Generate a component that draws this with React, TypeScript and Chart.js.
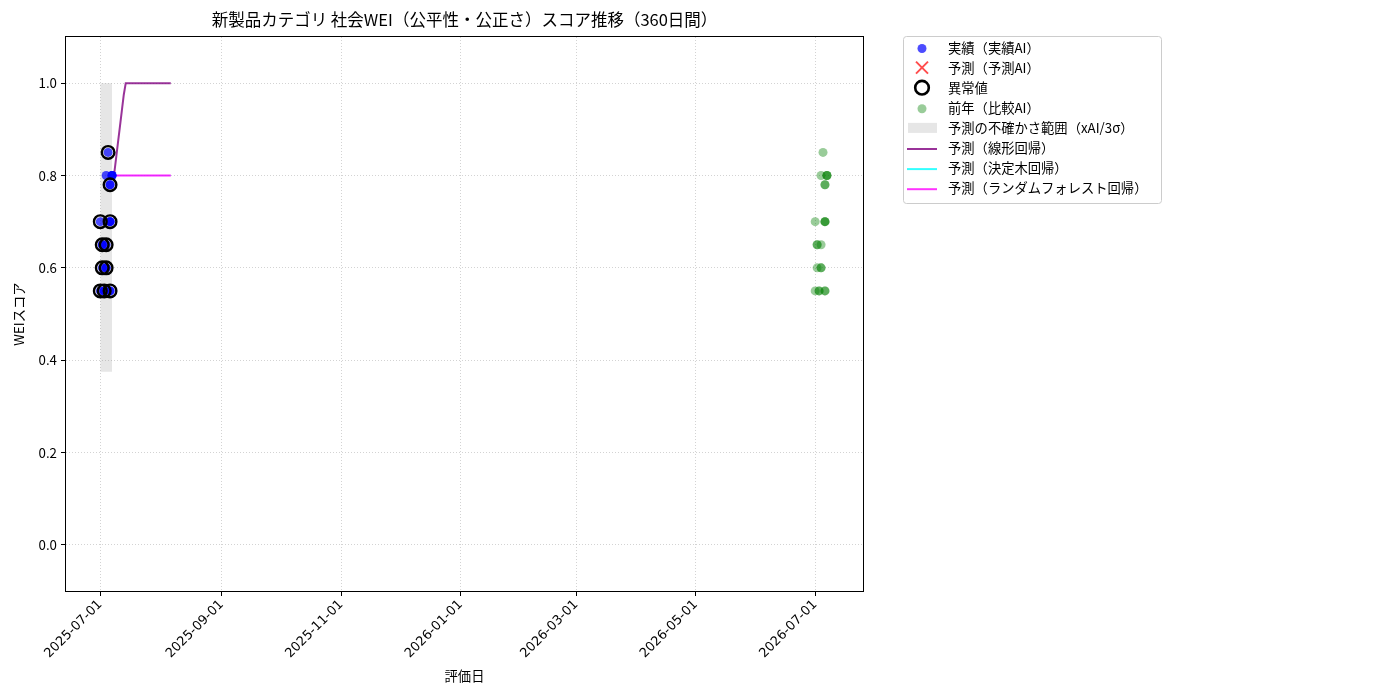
import { useEffect, useRef } from 'react';
import { Chart, registerables } from 'chart.js';
import type { Plugin } from 'chart.js';

Chart.register(...registerables);

const FONT = '"Noto Sans CJK JP", "Noto Sans", sans-serif';
const TICK_FONT = '"DejaVu Sans", sans-serif';

// 実績（実績AI）
const actualDates = [
    '2025-07-05', '2025-07-04', '2025-07-07', '2025-07-07', '2025-07-07', '2025-07-06', '2025-07-06',
    '2025-07-01', '2025-07-06', '2025-07-06', '2025-07-06', '2025-07-02', '2025-07-02', '2025-07-04',
    '2025-07-02', '2025-07-04', '2025-07-04', '2025-07-01', '2025-07-03', '2025-07-03', '2025-07-06',
    '2025-07-06',
];
const actualValues = [
    0.85, 0.80, 0.80, 0.80, 0.80, 0.78, 0.78,
    0.70, 0.70, 0.70, 0.70, 0.65, 0.65, 0.65,
    0.60, 0.60, 0.60, 0.55, 0.55, 0.55, 0.55,
    0.55,
];

// 異常値
const anomalyDates = [
    '2025-07-05', '2025-07-06', '2025-07-01', '2025-07-06', '2025-07-02', '2025-07-04', '2025-07-02',
    '2025-07-04', '2025-07-01', '2025-07-03', '2025-07-06',
];
const anomalyValues = [0.85, 0.78, 0.70, 0.70, 0.65, 0.65, 0.60, 0.60, 0.55, 0.55, 0.55];

// 前年（比較AI）
const prevYearDates = [
    '2026-07-05', '2026-07-04', '2026-07-07', '2026-07-07', '2026-07-07', '2026-07-06', '2026-07-06',
    '2026-07-01', '2026-07-06', '2026-07-06', '2026-07-06', '2026-07-02', '2026-07-02', '2026-07-04',
    '2026-07-02', '2026-07-04', '2026-07-04', '2026-07-01', '2026-07-03', '2026-07-03', '2026-07-06',
    '2026-07-06',
];
const prevYearValues = [
    0.85, 0.80, 0.80, 0.80, 0.80, 0.78, 0.78,
    0.70, 0.70, 0.70, 0.70, 0.65, 0.65, 0.65,
    0.60, 0.60, 0.60, 0.55, 0.55, 0.55, 0.55,
    0.55,
];

// 予測期間
const forecastDates = [
    '2025-07-08', '2025-07-09', '2025-07-10', '2025-07-11', '2025-07-12', '2025-07-13', '2025-07-14',
    '2025-07-15', '2025-07-16', '2025-07-17', '2025-07-18', '2025-07-19', '2025-07-20', '2025-07-21',
    '2025-07-22', '2025-07-23', '2025-07-24', '2025-07-25', '2025-07-26', '2025-07-27', '2025-07-28',
    '2025-07-29', '2025-07-30', '2025-07-31', '2025-08-01', '2025-08-02', '2025-08-03', '2025-08-04',
    '2025-08-05', '2025-08-06',
];
const linearForecast = [
    0.80, 0.835, 0.87, 0.905, 0.94, 0.975, 1.0, 1.0, 1.0, 1.0, 1.0, 1.0, 1.0, 1.0, 1.0,
    1.0, 1.0, 1.0, 1.0, 1.0, 1.0, 1.0, 1.0, 1.0, 1.0, 1.0, 1.0, 1.0, 1.0, 1.0,
];
const treeForecast = [
    0.80, 0.80, 0.80, 0.80, 0.80, 0.80, 0.80, 0.80, 0.80, 0.80, 0.80, 0.80, 0.80, 0.80, 0.80,
    0.80, 0.80, 0.80, 0.80, 0.80, 0.80, 0.80, 0.80, 0.80, 0.80, 0.80, 0.80, 0.80, 0.80, 0.80,
];
const forestForecast = [
    0.80, 0.80, 0.80, 0.80, 0.80, 0.80, 0.80, 0.80, 0.80, 0.80, 0.80, 0.80, 0.80, 0.80, 0.80,
    0.80, 0.80, 0.80, 0.80, 0.80, 0.80, 0.80, 0.80, 0.80, 0.80, 0.80, 0.80, 0.80, 0.80, 0.80,
];

// 予測の不確かさ範囲
const bandDates = ['2025-07-01', '2025-07-07'];
const bandLower = [0.375, 0.375];
const bandUpper = [1.0, 1.0];

const xTickLabels = ['2025-07-01', '2025-09-01', '2025-11-01', '2026-01-01', '2026-03-01', '2026-05-01', '2026-07-01'];
const yTickValues = [0.0, 0.2, 0.4, 0.6, 0.8, 1.0];
const xLimits = ['2025-06-13T12:00:00Z', '2026-07-25T10:00:00Z'];
const yLimits = [-0.1, 1.1];

const TITLE = '新製品カテゴリ 社会WEI（公平性・公正さ）スコア推移（360日間）';
const legendLabels = [
    '実績（実績AI）', '予測（予測AI）', '異常値', '前年（比較AI）',
    '予測の不確かさ範囲（xAI/3σ）', '予測（線形回帰）', '予測（決定木回帰）', '予測（ランダムフォレスト回帰）',
];

const C_BLUE = 'rgba(0,0,255,0.7)';
const C_RED = 'rgba(255,0,0,0.7)';
const C_GREEN = 'rgba(0,128,0,0.4)';
const C_BAND = 'rgba(128,128,128,0.2)';
const C_PURPLE = 'rgba(128,0,128,0.8)';
const C_CYAN = 'rgba(0,255,255,0.8)';
const C_MAGENTA = 'rgba(255,0,255,0.8)';

const toMs = (d: string) => Date.parse(d.length === 10 ? d + 'T00:00:00Z' : d);
const pts = (dates: string[], values: number[]) => dates.map((d, i) => ({ x: toMs(d), y: values[i] }));

// frame, title and legend drawn like the matplotlib figure
const decorPlugin: Plugin = {
    id: 'decor',
    afterDraw(chart) {
        const { ctx, chartArea } = chart;
        const { left, top, right, bottom } = chartArea;
        ctx.save();
        ctx.strokeStyle = '#000';
        ctx.lineWidth = 1;
        ctx.strokeRect(Math.round(left) - 0.5, Math.round(top) - 0.5, Math.round(right - left) + 1, Math.round(bottom - top) + 1);

        ctx.fillStyle = '#000';
        ctx.font = `16.5px ${FONT}`;
        ctx.textAlign = 'center';
        ctx.textBaseline = 'middle';
        ctx.fillText(TITLE, (left + right) / 2, 20);

        // legend box
        const bx = 903.5, by = 36.5, bw = 258, bh = 167;
        ctx.beginPath();
        ctx.roundRect(bx, by, bw, bh, 3);
        ctx.fillStyle = 'rgba(255,255,255,0.8)';
        ctx.fill();
        ctx.strokeStyle = '#cccccc';
        ctx.lineWidth = 1;
        ctx.stroke();

        const mx = 922;
        legendLabels.forEach((label, i) => {
            const y = 47.5 + i * 20.1;
            ctx.save();
            if (i === 0 || i === 3) {
                ctx.beginPath();
                ctx.arc(mx, y + 1, 4.5, 0, Math.PI * 2);
                ctx.fillStyle = i === 0 ? C_BLUE : C_GREEN;
                ctx.fill();
            } else if (i === 1) {
                ctx.strokeStyle = C_RED;
                ctx.lineWidth = 2;
                ctx.beginPath();
                ctx.moveTo(mx - 6, y - 6);
                ctx.lineTo(mx + 6, y + 6);
                ctx.moveTo(mx + 6, y - 6);
                ctx.lineTo(mx - 6, y + 6);
                ctx.stroke();
            } else if (i === 2) {
                ctx.beginPath();
                ctx.arc(mx, y, 6.8, 0, Math.PI * 2);
                ctx.strokeStyle = '#000';
                ctx.lineWidth = 2.6;
                ctx.stroke();
            } else if (i === 4) {
                ctx.fillStyle = C_BAND;
                ctx.fillRect(908, y - 5, 29, 10);
            } else {
                ctx.strokeStyle = [C_PURPLE, C_CYAN, C_MAGENTA][i - 5];
                ctx.lineWidth = 2;
                ctx.beginPath();
                ctx.moveTo(907, y + 1);
                ctx.lineTo(937, y + 1);
                ctx.stroke();
            }
            ctx.restore();
            ctx.fillStyle = '#000';
            ctx.font = `13.3px ${FONT}`;
            ctx.textAlign = 'left';
            ctx.textBaseline = 'middle';
            ctx.fillText(label, 948, y);
        });
        ctx.restore();
    },
};

const WeiChart: React.FC = () => {
    const chartRef = useRef<HTMLCanvasElement | null>(null);

    useEffect(() => {
        const ctx = chartRef.current?.getContext('2d');
        if (!ctx) return;

        const lineDs = (label: string, data: { x: number; y: number }[], color: string, width = 2) => ({
            type: 'line' as const,
            label,
            data,
            borderColor: color,
            borderWidth: width,
            pointRadius: 0,
            fill: false,
        });

        const gridOpts = {
            color: 'rgba(176,176,176,0.7)',
            lineWidth: 0.8,
            tickColor: '#000',
            tickWidth: 1,
            tickLength: 5,
            tickBorderDash: [],
        } as any;

        const chart = new Chart(ctx, {
            type: 'scatter',
            data: {
                datasets: [
                    {
                        label: '異常値',
                        data: pts(anomalyDates, anomalyValues),
                        pointRadius: 6.3,
                        pointBorderWidth: 2.4,
                        pointBorderColor: '#000',
                        pointBackgroundColor: 'rgba(0,0,0,0)',
                    },
                    {
                        label: '実績（実績AI）',
                        data: pts(actualDates, actualValues),
                        pointRadius: 4.5,
                        pointBorderWidth: 0,
                        pointBackgroundColor: C_BLUE,
                    },
                    {
                        label: '前年（比較AI）',
                        data: pts(prevYearDates, prevYearValues),
                        pointRadius: 4.5,
                        pointBorderWidth: 0,
                        pointBackgroundColor: C_GREEN,
                    },
                    lineDs('予測（ランダムフォレスト回帰）', pts(forecastDates, forestForecast), 'rgba(255,0,255,0.85)', 2.2),
                    lineDs('予測（決定木回帰）', pts(forecastDates, treeForecast), C_CYAN, 0.8),
                    lineDs('予測（線形回帰）', pts(forecastDates, linearForecast), C_PURPLE),
                    {
                        type: 'line' as const,
                        label: 'upper',
                        data: pts(bandDates, bandUpper),
                        borderWidth: 0,
                        pointRadius: 0,
                        backgroundColor: C_BAND,
                        fill: '+1',
                    },
                    {
                        type: 'line' as const,
                        label: 'lower',
                        data: pts(bandDates, bandLower),
                        borderWidth: 0,
                        pointRadius: 0,
                        fill: false,
                    },
                ] as any,
            },
            options: {
                animation: false,
                responsive: true,
                maintainAspectRatio: false,
                events: [],
                layout: { padding: { top: 37, right: 537, left: 0, bottom: 0 } },
                plugins: {
                    legend: { display: false },
                    tooltip: { enabled: false },
                    title: { display: false },
                },
                scales: {
                    x: {
                        type: 'linear',
                        min: toMs(xLimits[0]),
                        max: toMs(xLimits[1]),
                        afterBuildTicks: (scale) => {
                            scale.ticks = xTickLabels.map((d) => ({ value: toMs(d) }));
                        },
                        afterFit: (scale) => {
                            scale.height = 109;
                        },
                        ticks: {
                            autoSkip: false,
                            minRotation: 45,
                            maxRotation: 45,
                            padding: 1,
                            color: '#000',
                            font: { family: TICK_FONT, size: 13 },
                            callback: (v) => new Date(Number(v)).toISOString().slice(0, 10),
                        },
                        grid: gridOpts,
                        border: { display: false, dash: [1, 2] },
                        title: {
                            display: true,
                            text: '評価日',
                            color: '#000',
                            font: { family: FONT, size: 13.3 },
                            padding: { top: 0, bottom: 16 },
                        },
                    },
                    y: {
                        type: 'linear',
                        min: yLimits[0],
                        max: yLimits[1],
                        afterBuildTicks: (scale) => {
                            scale.ticks = yTickValues.map((v) => ({ value: v }));
                        },
                        afterFit: (scale) => {
                            scale.width = 66;
                        },
                        ticks: {
                            padding: 4,
                            color: '#000',
                            font: { family: FONT, size: 13.3 },
                            callback: (v) => Number(v).toFixed(1),
                        },
                        grid: gridOpts,
                        border: { display: false, dash: [1, 2] },
                        title: {
                            display: true,
                            text: 'WEIスコア',
                            color: '#000',
                            font: { family: FONT, size: 13.3 },
                            padding: { top: 11, bottom: 0 },
                        },
                    },
                },
            },
            plugins: [decorPlugin],
        });

        return () => {
            chart.destroy();
        };
    }, []);

    return (
        <div style={{ position: 'absolute', left: 0, top: 0, width: 1400, height: 700, background: '#fff' }}>
            <canvas ref={chartRef}></canvas>
        </div>
    );
};

export default function App() {
    return <WeiChart />;
}
